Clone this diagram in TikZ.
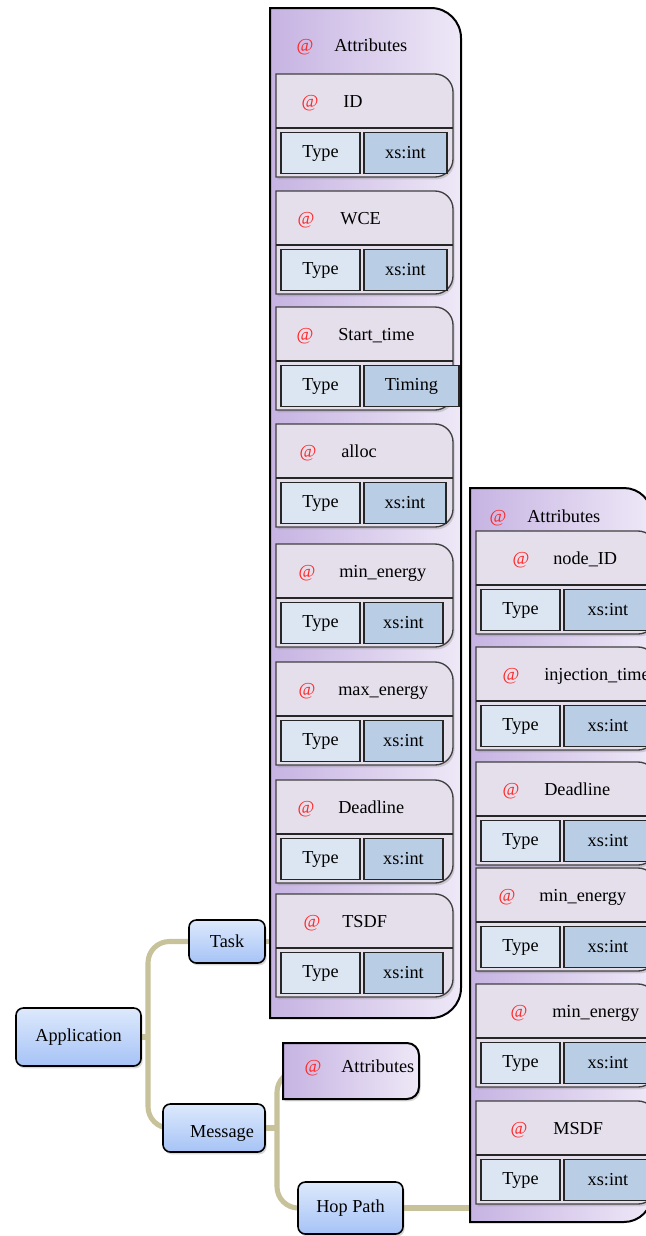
\documentclass[tikz,border=0pt]{standalone}
\usepackage{fontspec}
\setmainfont{Liberation Serif}
\usetikzlibrary{shadows,backgrounds}
\definecolor{conncol}{HTML}{C8C29A}
\definecolor{pl}{HTML}{C6B3E2}
\definecolor{pr}{HTML}{EEE8F7}
\definecolor{cardfill}{HTML}{E5DFEC}
\definecolor{typefill}{HTML}{DCE6F2}
\definecolor{valfill}{HTML}{B9CDE5}
\definecolor{ntop}{HTML}{DDE9FC}
\definecolor{nbot}{HTML}{A6C3F6}
\definecolor{atred}{HTML}{FF2626}
\newcommand{\rbox}[6]{%
 \path[#6] ({#1},{#2}) -- ({#3-#5},{#2}) .. controls ({#3-0.45*#5},{#2}) and ({#3},{#2+0.45*#5}) .. ({#3},{#2+#5}) -- ({#3},{#4-#5}) .. controls ({#3},{#4-0.45*#5}) and ({#3-0.45*#5},{#4}) .. ({#3-#5},{#4}) -- ({#1},{#4}) -- cycle;}
\newcommand{\card}[9]{%
 \rbox{#2}{#3}{#4}{#3+103}{18}{cardst}
 \draw[cardline] ({#2},{#3+54}) -- ({#4},{#3+54});
 \node[typebox, minimum width=59.25pt] (#1-type) at ({#2+44.5},{#3+79}) {Type};
 \node[valbox, minimum width={(#9-#2-88)*0.75pt}] (#1-val) at ({(#2+88+#9)/2},{#3+79}) {#8};
 \node[atsign] (#1-at) at ({#5},{#3+29}) {@};
 \node[lbl] (#1-name) at ({#6},{#3+29}) {#7};
}
\begin{document}
\begin{tikzpicture}[x=0.75pt,y=-0.75pt, font=\fontsize{13.7}{16}\selectfont,
 conn/.style={draw=conncol, line width=3.8pt},
 panel/.style={left color=pl, right color=pr, draw=black, line width=1.5pt},
 cardst/.style={fill=cardfill, draw=black!75, line width=1pt, drop shadow={opacity=0.3, shadow xshift=1.2pt, shadow yshift=-1.8pt}},
 cardline/.style={draw=black!85, line width=1pt},
 typebox/.style={draw=black!85, line width=1pt, fill=typefill, inner sep=0pt, minimum height=30.75pt},
 valbox/.style={draw=black!85, line width=1pt, fill=valfill, inner sep=0pt, minimum height=30.75pt},
 tnode/.style={draw=black, line width=1.2pt, rounded corners=5.5pt, top color=ntop, bottom color=nbot, inner sep=0pt, drop shadow={opacity=0.3, shadow xshift=1.2pt, shadow yshift=-1.8pt}},
 atsign/.style={text=atred, inner sep=0pt, text height=9pt, text depth=2.5pt},
 lbl/.style={inner sep=0pt, text height=9pt, text depth=2.5pt, anchor=west}]
\useasboundingbox (0,0) rectangle (646,1236);

% tree nodes
\node[tnode, minimum width=93.75pt, minimum height=43.5pt] (app) at (78.5,1037) {Application};
\node[tnode, minimum width=57pt, minimum height=32.25pt] (task) at (227,941.5) {Task};
\node[tnode, minimum width=76.5pt, minimum height=36pt] (msg) at (214,1128) {};
\node[lbl, anchor=center] (msgtext) at (222,1133) {Message};
\node[tnode, minimum width=78.75pt, minimum height=39pt] (hop) at (350.5,1208) {Hop Path};

\coordinate (j1) at (148,1037);
\coordinate (j2) at (277,1128);
\coordinate (taskpanel) at (272,941.5);
\coordinate (hoppanel) at (472,1208);
\coordinate (mattrin) at (305,1071);

% connectors (behind nodes)
\begin{pgfonlayer}{background}
\fill[white] (0,0) rectangle (646,1236);
\draw[conn] (app.east) -- (j1);
\draw[conn, rounded corners=16pt] (task.west) -| (j1) |- (msg.west);
\draw[conn] (msg.east) -- (j2);
\draw[conn, rounded corners=16pt] (mattrin) -| (j2) |- (hop.west);
\draw[conn] (task.east) -- (taskpanel);
\draw[conn] (hop.east) -- (hoppanel);
\end{pgfonlayer}

% task attribute panel
\rbox{270}{8}{461}{1018}{30}{panel}
\node[atsign] (pa-at) at (305,47) {@};
\node[lbl] (pa-name) at (334,47) {Attributes};
\card{c1}{276}{74}{453}{310}{343}{ID}{xs:int}{447}
\card{c2}{276}{191}{453}{306}{340}{WCE}{xs:int}{447}
\card{c3}{276}{307}{453}{305}{338}{Start\_time}{Timing}{459}
\card{c4}{276}{424}{453}{308}{341}{alloc}{xs:int}{446}
\card{c5}{276}{544}{453}{307}{339}{min\_energy}{xs:int}{443}
\card{c6}{276}{662}{453}{307}{338}{max\_energy}{xs:int}{443}
\card{c7}{276}{780}{453}{306}{338}{Deadline}{xs:int}{443}
\card{c8}{276}{894}{453}{312}{342}{TSDF}{xs:int}{443}

% message attributes box
\rbox{283}{1043}{419}{1099}{12}{panel, drop shadow={opacity=0.3, shadow xshift=1.2pt, shadow yshift=-1.8pt}}
\node[atsign] (ma-at) at (313,1068) {@};
\node[lbl] (ma-name) at (341,1068) {Attributes};

% hop path attribute panel
\rbox{470}{488}{652}{1222}{28}{panel}
\node[atsign] (pb-at) at (498,518) {@};
\node[lbl] (pb-name) at (527,518) {Attributes};
\card{r1}{476}{531}{656}{521}{553}{node\_ID}{xs:int}{652}
\card{r2}{476}{647}{656}{511}{544}{injection\_time}{xs:int}{652}
\card{r3}{476}{762}{656}{511}{544}{Deadline}{xs:int}{652}
\card{r4}{476}{868}{656}{507}{539}{min\_energy}{xs:int}{652}
\card{r5}{476}{984}{656}{519}{552}{min\_energy}{xs:int}{652}
\card{r6}{476}{1101}{656}{519}{553}{MSDF}{xs:int}{652}
\end{tikzpicture}
\end{document}
